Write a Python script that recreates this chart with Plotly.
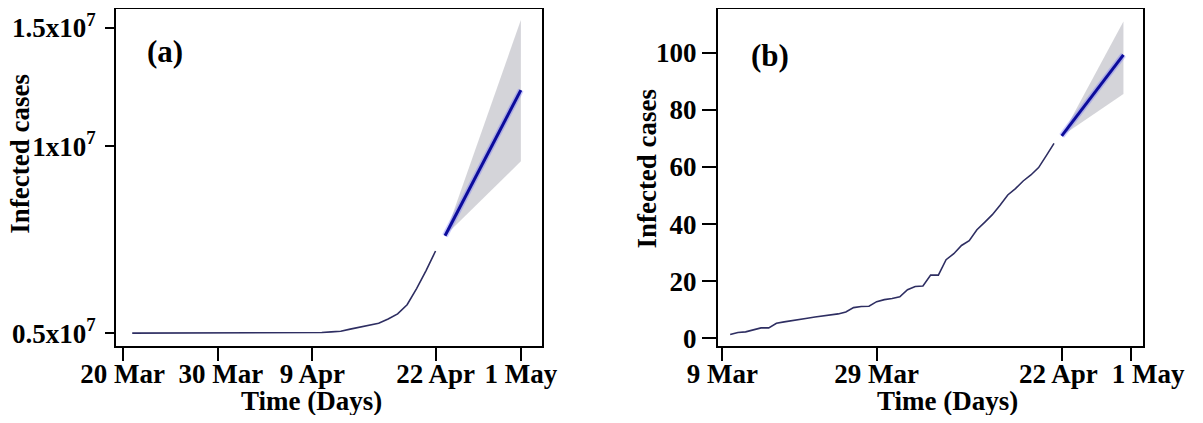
import pandas as pd
import plotly.graph_objects as go
from plotly.subplots import make_subplots

# ---------------- data ----------------
# Panel (a)
a_hist_dates = pd.date_range("2020-03-21", "2020-04-22", freq="D")
a_hist_vals = [5.00e6] * 19 + [5.01e6, 5.02e6, 5.04e6, 5.06e6, 5.13e6, 5.20e6, 5.26e6,
                               5.32e6, 5.46e6, 5.63e6, 5.93e6, 6.46e6, 7.05e6, 7.69e6]
a_fc_dates = ["2020-04-23", "2020-05-01"]
a_fc_vals = [8.19e6, 12.96e6]
a_fc_upper = [8.19e6, 15.26e6]
a_fc_lower = [8.19e6, 10.63e6]
a_xtick_dates = ["2020-03-20", "2020-03-30", "2020-04-09", "2020-04-22", "2020-05-01"]
a_xtick_text = ["20 Mar", "\u00a030 Mar", "9 Apr", "22 Apr", "1 May"]
a_ytick_vals = [5.0e6, 11.12e6, 15.0e6]
a_ytick_text = ["0.5x10<sup>7</sup>", "1x10<sup>7</sup>", "1.5x10<sup>7</sup>"]

# Panel (b)
b_hist_dates = pd.date_range("2020-03-10", "2020-04-21", freq="D")
b_hist_vals = [1.3, 2.0, 2.2, 3.0, 3.6, 3.6, 5.2, 5.7, 6.2, 6.7, 7.0, 7.4, 7.8, 8.2, 8.5,
               9.2, 10.7, 11.1, 11.2, 12.8, 13.5, 13.9, 14.5, 17.0, 18.1, 18.3, 22.1, 22.1,
               27.5, 29.6, 32.5, 34.2, 38.0, 40.6, 43.3, 46.6, 50.2, 52.4, 55.1, 57.2, 59.8,
               64.0, 68.3]
b_fc_dates = ["2020-04-22", "2020-04-30"]
b_fc_vals = [70.9, 99.3]
b_fc_upper = [70.9, 111.0]
b_fc_lower = [70.9, 85.6]
b_xtick_dates = ["2020-03-09", "2020-03-29", "2020-04-22", "2020-05-01"]
b_xtick_text = ["9 Mar", "29 Mar", "22 Apr\u00a0", "\u00a0\u00a0\u00a0\u00a0\u00a01 May"]
b_ytick_vals = [0, 20, 40, 60, 80, 100]

# ---------------- style ----------------
FONT = "Liberation Serif"
HIST_COLOR = "#2e2e62"
FC_COLOR = "#0c0c9c"
GLOW = "rgba(90,90,255,0.30)"
BAND = "rgba(205,205,210,0.85)"

PAGE_OFF = 8               # default body margin of the html page
FW, FH = 1203 - 2 * PAGE_OFF, 423 - 2 * PAGE_OFF


def fx(x):
    return min(1.0, max(0.0, (x - PAGE_OFF) / FW))


def fy(y):
    return min(1.0, max(0.0, 1 - (y - PAGE_OFF) / FH))


fig = make_subplots(rows=1, cols=2)


def add_panel(col, hd, hv, fd, fv, fu, fl):
    fig.add_trace(go.Scatter(x=list(fd) + list(fd)[::-1], y=list(fu) + list(fl)[::-1],
                             fill="toself", fillcolor=BAND, line=dict(width=0),
                             mode="lines", hoverinfo="skip", showlegend=False),
                  row=1, col=col)
    fig.add_trace(go.Scatter(x=hd, y=hv, mode="lines",
                             line=dict(color=HIST_COLOR, width=1.6), showlegend=False),
                  row=1, col=col)
    fig.add_trace(go.Scatter(x=fd, y=fv, mode="lines",
                             line=dict(color=GLOW, width=6), showlegend=False,
                             hoverinfo="skip"), row=1, col=col)
    fig.add_trace(go.Scatter(x=fd, y=fv, mode="lines",
                             line=dict(color=FC_COLOR, width=3), showlegend=False),
                  row=1, col=col)


add_panel(1, a_hist_dates, a_hist_vals, a_fc_dates, a_fc_vals, a_fc_upper, a_fc_lower)
add_panel(2, b_hist_dates, b_hist_vals, b_fc_dates, b_fc_vals, b_fc_upper, b_fc_lower)

a0 = pd.Timestamp("2020-03-20")
b0 = pd.Timestamp("2020-03-09")
a_xrange = [a0 + pd.Timedelta(days=-0.71), a0 + pd.Timedelta(days=44.23)]
b_xrange = [b0 + pd.Timedelta(days=-0.58), b0 + pd.Timedelta(days=54.54)]

tickfont = dict(family=FONT, size=27, color="black", weight="bold")
axis_common = dict(showgrid=False, zeroline=False, showline=True, linecolor="black",
                   linewidth=2, mirror=True, ticks="outside", tickcolor="black",
                   tickwidth=2, tickfont=tickfont, automargin=False)

ydom = [fy(346), fy(8)]
fig.update_layout(
    width=FW, height=FH, margin=dict(l=0, r=0, t=1, b=0),
    paper_bgcolor="white", plot_bgcolor="white", showlegend=False,
    xaxis=dict(domain=[fx(116), fx(542)], range=a_xrange, type="date",
               tickvals=a_xtick_dates, ticktext=a_xtick_text, ticklen=13, tickangle=0,
               ticklabelstandoff=-11, **axis_common),
    yaxis=dict(domain=ydom, range=[4.572e6, 15.62e6],
               tickvals=a_ytick_vals, ticktext=a_ytick_text, ticklen=9,
               ticklabelstandoff=4, **axis_common),
    xaxis2=dict(domain=[fx(718), fx(1143)], range=b_xrange, type="date",
                tickvals=b_xtick_dates, ticktext=b_xtick_text, ticklen=13, tickangle=0,
                ticklabelstandoff=-11, **axis_common),
    yaxis2=dict(domain=ydom, range=[-2.81, 115.4],
                tickvals=b_ytick_vals, ticktext=[str(v) for v in b_ytick_vals],
                ticklen=14, **axis_common),
)

annots = [
    ("<b>(a)</b>", 165, 51, 31, 0),
    ("<b>(b)</b>", 770, 55, 31, 0),
    ("<b>Time (Days)</b>", 312, 401, 27, 0),
    ("<b>Time (Days)</b>", 947, 401, 27, 0),
    ("<b>Infected cases</b>", 20, 153, 27, -90),
    ("<b>Infected cases</b>", 647, 168, 27, -90),
]
for text, x, y, size, ang in annots:
    fig.add_annotation(text=text, x=fx(x), y=fy(y), xref="paper", yref="paper",
                       showarrow=False, xanchor="center", yanchor="middle", textangle=ang,
                       font=dict(family=FONT, size=size, color="black"))

fig.write_html("out.html")
